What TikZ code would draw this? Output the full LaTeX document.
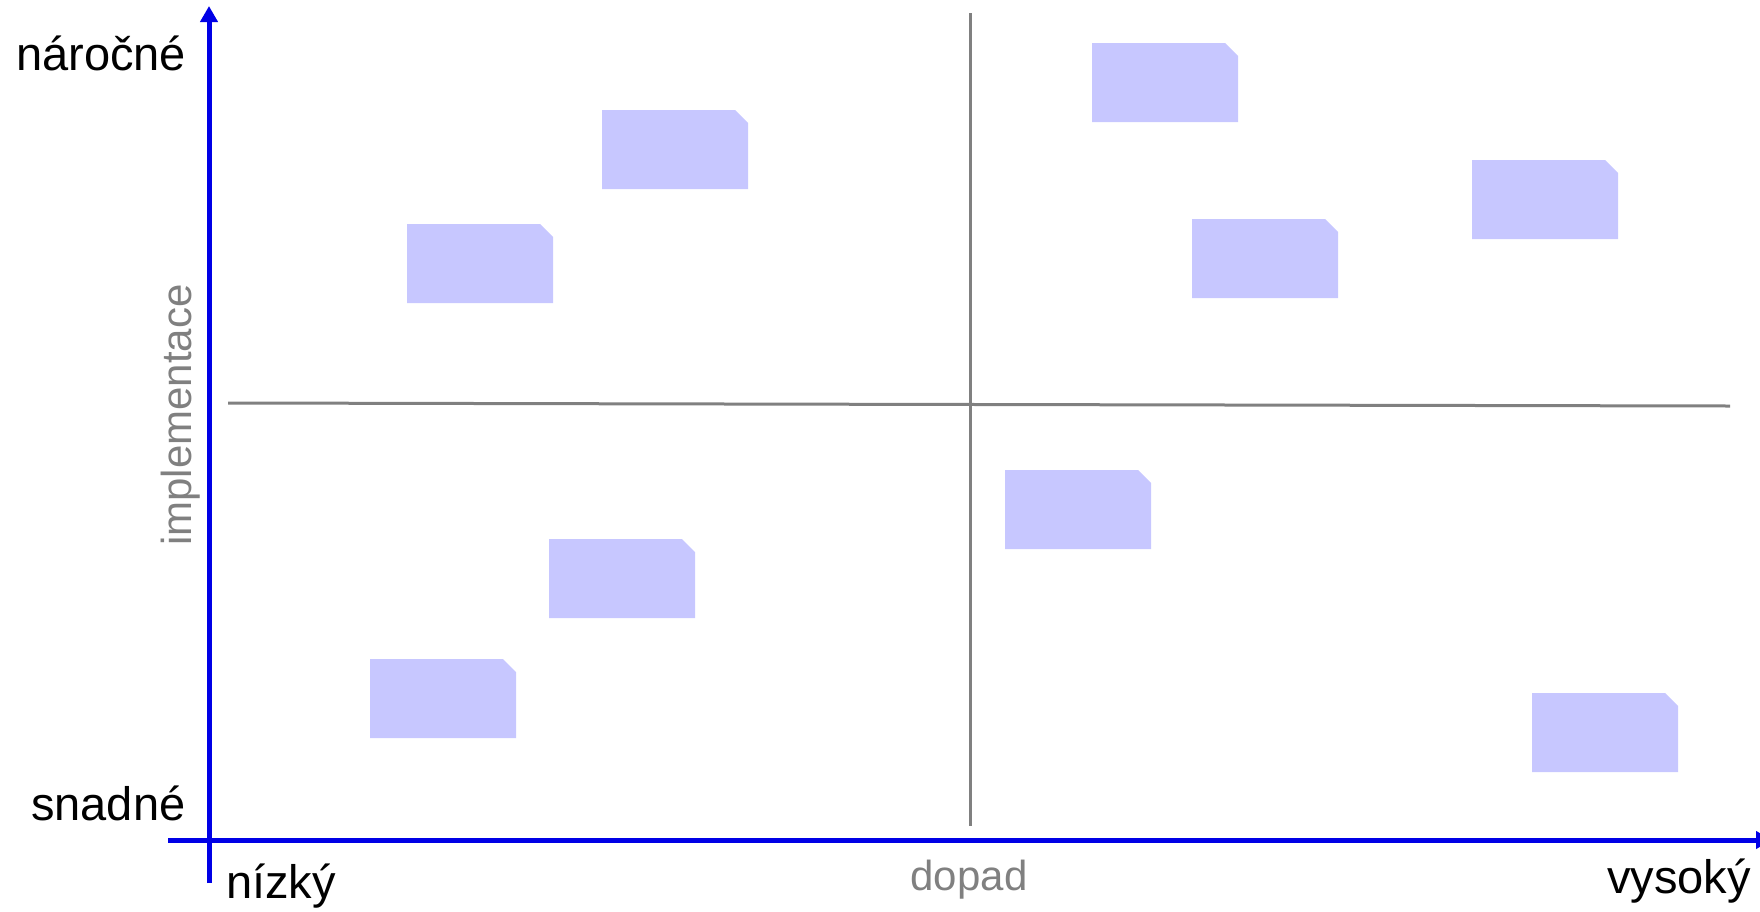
\documentclass[tikz,border=0pt]{standalone}
\usepackage{fontspec}
\setmainfont{Liberation Sans}
\usetikzlibrary{arrows.meta}
\definecolor{axisblue}{RGB}{0,0,230}
\definecolor{notecol}{RGB}{199,199,255}
\definecolor{quadgray}{RGB}{128,128,128}
\newcommand\notebox[2]{\fill[notecol] (#1,#2) -- ++(133,0) -- ++(13,13) -- ++(0,66) -- ++(-146,0) -- cycle;}
\tikzset{
  axisline/.style={draw=axisblue, line width=5pt, -{Triangle[width=17pt,length=16pt]}},
  quadline/.style={draw=quadgray, line width=3pt},
  bigtxt/.style={font=\fontsize{47}{56}\selectfont, text=black, inner sep=0pt},
  graytxt/.style={font=\fontsize{42}{50}\selectfont, text=quadgray, inner sep=0pt}
}
\begin{document}
\begin{tikzpicture}[x=1pt,y=-1pt]
\useasboundingbox (0,0) rectangle (1760,911);
% quadrant lines
\coordinate (vt) at (970,13);
\coordinate (vb) at (970,826);
\coordinate (hl) at (228,403);
\coordinate (hr) at (1730,406);
\draw[quadline] (vt) -- (vb);
\draw[quadline] (hl) -- (hr);
% notes
\notebox{602}{110}
\notebox{407}{224}
\notebox{1092}{43}
\notebox{1472}{160}
\notebox{1192}{219}
\notebox{1005}{470}
\notebox{549}{539}
\notebox{370}{659}
\notebox{1532}{693}
% axes
\coordinate (yb) at (209,883);
\coordinate (yt) at (209,6);
\coordinate (xl) at (168,840);
\coordinate (xr) at (1772,840);
\draw[axisline] (yb) -- (yt);
\draw[axisline] (xl) -- (xr);
% labels
\node[bigtxt, anchor=base west] (narocne) at (16,70) {náročné};
\node[bigtxt, anchor=base west] (snadne) at (31,820) {snadné};
\node[bigtxt, anchor=base west] (nizky) at (226,898) {nízký};
\node[bigtxt, anchor=base east] (vysoky) at (1751,893) {vysoký};
\node[graytxt, anchor=base] (dopad) at (969,890) {dopad};
\node[graytxt, anchor=base, rotate=90] (impl) at (191,415) {implementace};
\end{tikzpicture}
\end{document}
